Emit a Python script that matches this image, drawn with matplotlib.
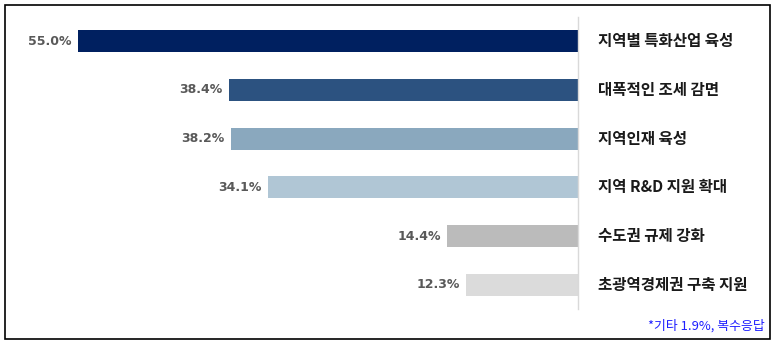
import matplotlib.pyplot as plt
from matplotlib.patches import Rectangle

plt.rcParams['font.family'] = ['Noto Sans CJK KR', 'DejaVu Sans']

# 응답 항목과 비율(%)
categories = ['지역별 특화산업 육성', '대폭적인 조세 감면', '지역인재 육성',
              '지역 R&D 지원 확대', '수도권 규제 강화', '초광역경제권 구축 지원']
values = [55.0, 38.4, 38.2, 34.1, 14.4, 12.3]
colors = ['#002060', '#2C5280', '#8AA8BE', '#B0C6D5', '#BBBBBB', '#DBDBDB']
note = '*기타 1.9%, 복수응답'

W, H = 773, 343
fig = plt.figure(figsize=(W / 100, H / 100), dpi=100)

# 막대 영역: 오른쪽 끝이 0, 왼쪽으로 늘어나는 가로 막대
x_right, px_per_unit = 578, 9.09
xmax = 60
x_left = x_right - xmax * px_per_unit
y_top, y_bot = 16.6, 309.4
ax = fig.add_axes([x_left / W, (H - y_bot) / H, (x_right - x_left) / W, (y_bot - y_top) / H])

ypos = list(range(len(categories)))
ax.barh(ypos, values, height=0.45, color=colors, edgecolor='none')
ax.set_xlim(xmax, 0)
ax.set_ylim(len(categories) - 0.5, -0.5)

for y, v, name in zip(ypos, values, categories):
    ax.text(v + 0.7, y, f'{v:.1f}%', ha='right', va='center', fontsize=9,
            fontweight='bold', color='#595959', family=['DejaVu Sans'])
    ax.text(-2.2, y, name, ha='left', va='center',
            fontsize=11.2, fontweight='bold', color='#1a1a1a')

for s in ['top', 'bottom', 'left']:
    ax.spines[s].set_visible(False)
ax.spines['right'].set_color('#D9D9D9')
ax.spines['right'].set_linewidth(1)
ax.set_xticks([])
ax.set_yticks([])
ax.patch.set_alpha(0)

fig.text(765 / W, 1 - 326 / H, note, ha='right', va='center', fontsize=9.3,
         color='#1F1FFF')

# 바깥 테두리
fig.patches.append(Rectangle((5 / W, 4 / H), 765 / W, 334 / H, transform=fig.transFigure,
                             fill=False, edgecolor='black', linewidth=1.2))

fig.savefig('out.png', dpi=100)
